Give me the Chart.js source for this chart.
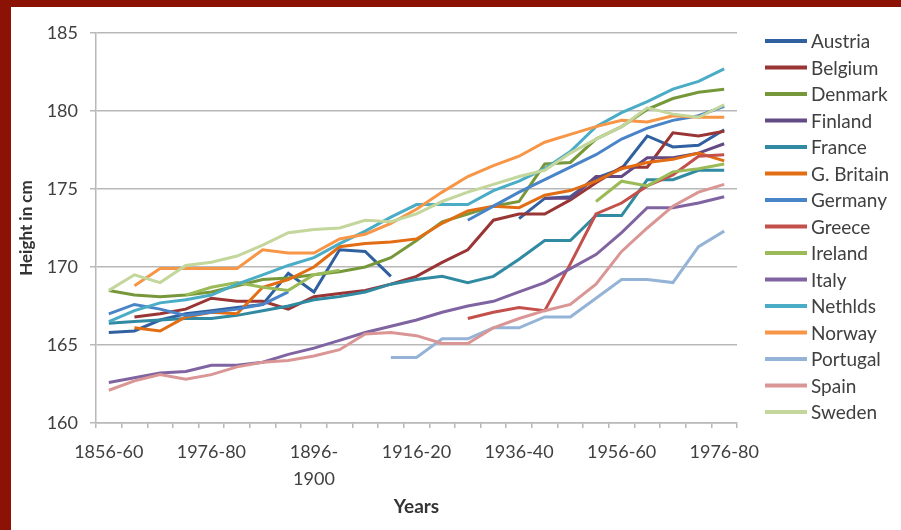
<!DOCTYPE html>
<html>
<head>
<meta charset="utf-8">
<script src="https://cdn.jsdelivr.net/npm/chart.js@4.4.1/dist/chart.umd.min.js"></script>
<style>
    html, body { margin: 0; padding: 0; }
    body { width: 901px; height: 530px; background: #8b1205; position: relative; overflow: hidden; }
    #paper { position: absolute; left: 11px; top: 7px; width: 890px; height: 523px; background: #fff; }
    #chart { position: absolute; left: 0; top: 0; }
</style>
</head>
<body>
<div id="paper"></div>
<canvas id="chart" width="901" height="530"></canvas>
<script>
// five-year periods on the x axis
const periods = ['1856-60', '1861-65', '1866-70', '1871-75', '1876-80', '1881-85', '1886-90',
    '1891-95', '1896-1900', '1901-05', '1906-10', '1911-15', '1916-20', '1921-25', '1926-30',
    '1931-35', '1936-40', '1941-45', '1946-50', '1951-55', '1956-60', '1961-65', '1966-70',
    '1971-75', '1976-80'];
// labels as printed on the axis (one every 4 periods)
const tickLabels = ['1856-60', '1976-80', ['1896-', '1900'], '1916-20', '1936-40', '1956-60', '1976-80'];
const tickEvery = 4;
const yTicks = [160, 165, 170, 175, 180, 185];

const austria = [165.8, 165.9, 166.6, 167.0, 167.2, 167.4, 167.6, 169.6, 168.4, 171.1, 171.0, 169.4, null, null, null, null, 173.1, 174.4, 174.5, 175.7, 176.3, 178.4, 177.7, 177.8, 178.8];
const belgium = [null, 166.8, 167.0, 167.3, 168.0, 167.8, 167.8, 167.3, 168.1, 168.3, 168.5, 168.9, 169.4, 170.3, 171.1, 173.0, 173.4, 173.4, 174.3, 175.4, 176.4, 176.4, 178.6, 178.4, 178.7];
const denmark = [168.5, 168.2, 168.1, 168.2, 168.4, 168.8, 169.2, 169.3, 169.5, 169.7, 170.0, 170.6, 171.7, 172.9, 173.4, 173.9, 174.2, 176.6, 176.7, 178.2, 179.0, 180.1, 180.8, 181.2, 181.4];
const finland = [null, null, null, null, null, null, null, null, null, null, null, null, null, null, null, null, null, 174.4, 174.4, 175.8, 175.8, 177.0, 177.0, 177.3, 177.9];
const france = [166.4, 166.5, 166.6, 166.7, 166.7, 166.9, 167.2, 167.5, 167.9, 168.1, 168.4, 168.9, 169.2, 169.4, 169.0, 169.4, 170.5, 171.7, 171.7, 173.3, 173.3, 175.6, 175.6, 176.2, 176.2];
const britain = [null, 166.1, 165.9, 166.8, 167.1, 167.0, 168.7, 169.2, 170.0, 171.3, 171.5, 171.6, 171.8, 172.8, 173.6, 173.9, 173.8, 174.6, 174.9, 175.5, 176.3, 176.7, 176.9, 177.3, 176.8];
const germany = [167.0, 167.6, 167.3, 166.9, 167.1, 167.3, 167.6, 168.4, null, null, null, null, null, null, 173.0, 173.9, 174.8, 175.6, 176.4, 177.2, 178.2, 178.9, 179.4, 179.7, 180.3];
const greece = [null, null, null, null, null, null, null, null, null, null, null, null, null, null, 166.7, 167.1, 167.4, 167.2, 170.2, 173.4, 174.1, 175.2, 175.9, 177.1, 177.2];
const ireland = [null, null, null, 168.2, 168.7, 169.0, 168.7, 168.5, 169.5, 169.8, null, null, null, null, null, null, null, null, null, 174.2, 175.5, 175.2, 176.1, 176.3, 176.6];
const italy = [162.6, 162.9, 163.2, 163.3, 163.7, 163.7, 163.9, 164.4, 164.8, 165.3, 165.8, 166.2, 166.6, 167.1, 167.5, 167.8, 168.4, 169.0, 169.9, 170.8, 172.2, 173.8, 173.8, 174.1, 174.5];
const nethlds = [166.5, 167.2, 167.7, 167.9, 168.2, 168.9, 169.5, 170.1, 170.6, 171.5, 172.3, 173.2, 174.0, 174.0, 174.0, 174.9, 175.5, 176.3, 177.4, 179.0, 179.9, 180.6, 181.4, 181.9, 182.7];
const norway = [null, 168.8, 169.9, 169.9, 169.9, 169.9, 171.1, 170.9, 170.9, 171.8, 172.1, 172.8, 173.7, 174.8, 175.8, 176.5, 177.1, 178.0, 178.5, 179.0, 179.4, 179.3, 179.7, 179.6, 179.6];
const portugal = [null, null, null, null, null, null, null, null, null, null, null, 164.2, 164.2, 165.4, 165.4, 166.1, 166.1, 166.8, 166.8, 168.0, 169.2, 169.2, 169.0, 171.3, 172.3];
const spain = [162.1, 162.7, 163.1, 162.8, 163.1, 163.6, 163.9, 164.0, 164.3, 164.7, 165.7, 165.8, 165.6, 165.1, 165.1, 166.1, 166.7, 167.2, 167.6, 168.9, 171.0, 172.5, 173.9, 174.8, 175.3];
const sweden = [168.5, 169.5, 169.0, 170.1, 170.3, 170.7, 171.4, 172.2, 172.4, 172.5, 173.0, 172.9, 173.4, 174.2, 174.8, 175.3, 175.8, 176.2, 177.3, 178.2, 179.0, 180.2, 179.8, 179.6, 180.4];

const countries = ['Austria', 'Belgium', 'Denmark', 'Finland', 'France', 'G. Britain', 'Germany',
    'Greece', 'Ireland', 'Italy', 'Nethlds', 'Norway', 'Portugal', 'Spain', 'Sweden'];
const series = [austria, belgium, denmark, finland, france, britain, germany,
    greece, ireland, italy, nethlds, norway, portugal, spain, sweden];
const colors = ['#30609f', '#9a3535', '#77983a', '#634a84', '#2f8aa2', '#e26d12', '#4a84c8',
    '#c4504c', '#9bbb59', '#8064a2', '#4bacc6', '#f79646', '#95b3d7', '#d99694', '#c3d69b'];

Chart.defaults.font.family = 'Lato, "Noto Sans", sans-serif';

// legend drawn by hand on the right, excel style
const sideLegend = {
    id: 'sideLegend',
    afterDraw(chart) {
        const ctx = chart.ctx;
        ctx.save();
        ctx.font = '19px Lato, "Noto Sans", sans-serif';
        ctx.textBaseline = 'middle';
        ctx.textAlign = 'left';
        chart.data.datasets.forEach((ds, i) => {
            const y = 41 + i * 26.5;
            ctx.strokeStyle = ds.borderColor;
            ctx.lineWidth = 4;
            ctx.beginPath();
            ctx.moveTo(765, y);
            ctx.lineTo(807, y);
            ctx.stroke();
            ctx.fillStyle = '#404040';
            ctx.fillText(ds.label, 811, y + 1);
        });
        ctx.restore();
    }
};

new Chart(document.getElementById('chart'), {
    type: 'line',
    data: {
        labels: periods,
        datasets: countries.map((name, i) => ({
            label: name,
            data: series[i],
            borderColor: colors[i],
            backgroundColor: colors[i],
            borderWidth: 3,
            pointRadius: 0,
            tension: 0,
            spanGaps: false,
            order: countries.length - i
        }))
    },
    options: {
        responsive: false,
        animation: false,
        events: [],
        layout: {padding: {left: 16, top: 33, right: 164, bottom: 12}},
        plugins: {
            legend: {display: false},
            tooltip: {enabled: false}
        },
        scales: {
            x: {
                offset: true,
                grid: {offset: true, drawOnChartArea: false, drawTicks: true, tickLength: 5, color: '#b8b8b8', lineWidth: 1.5},
                border: {color: '#b8b8b8', width: 1.5},
                ticks: {
                    autoSkip: false,
                    maxRotation: 0,
                    padding: 11,
                    color: '#404040',
                    font: {size: 18, lineHeight: 1.5},
                    callback: (value, index) => index % tickEvery === 0 ? tickLabels[index / tickEvery] : ''
                },
                title: {display: true, text: 'Years', color: '#333', padding: 0, font: {size: 19, weight: 'bold'}},
                afterFit: (scale) => { scale.height = 95; }
            },
            y: {
                min: yTicks[0],
                max: yTicks[yTicks.length - 1],
                ticks: {stepSize: 5, padding: 12, color: '#404040', font: {size: 18}},
                grid: {color: '#b8b8b8', lineWidth: 1.5, tickLength: 6},
                border: {color: '#b8b8b8', width: 1.5},
                title: {display: true, text: 'Height in cm', color: '#333', padding: 0, font: {size: 17, weight: 'bold'}},
                afterFit: (scale) => { scale.width = 80; }
            }
        }
    },
    plugins: [sideLegend]
});
</script>
</body>
</html>
